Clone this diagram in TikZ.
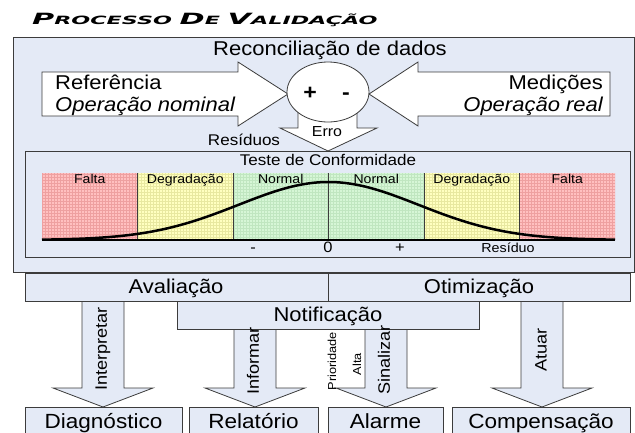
\documentclass[tikz,border=0pt]{standalone}
\usepackage{fontspec}
\setmainfont{Liberation Sans}[FakeStretch=1.1]
\newfontfamily\titlefont{DejaVu Sans}
\usepackage{tikz, amsmath, amssymb, graphicx}
\usetikzlibrary{positioning, shapes.geometric}

\definecolor{panel}{RGB}{228,234,246}
\definecolor{boxline}{RGB}{60,60,60}
\definecolor{falta}{RGB}{255,192,192}
\definecolor{faltaline}{RGB}{238,160,160}
\definecolor{deg}{RGB}{255,255,192}
\definecolor{degline}{RGB}{232,232,160}
\definecolor{norm}{RGB}{214,246,214}
\definecolor{normline}{RGB}{192,230,192}

\newcommand{\tbig}{\fontsize{15.5}{16}\selectfont}
\newcommand{\tsmall}{\fontsize{11.4}{12}\selectfont}
\newcommand{\blockdown}[2]{\draw[down_style] ({#1-21},#2) -- ({#1-21},388) -- ({#1-50},388) -- (#1,407) -- ({#1+50},388) -- ({#1+21},388) -- ({#1+21},#2) -- cycle;}

\begin{document}
\begin{tikzpicture}[x=1pt, y=-1pt]


\tikzstyle{box_style} = [draw=boxline, fill=panel, line width=0.8]
\tikzstyle{arrow_style} = [draw=boxline, fill=white, line width=0.8, line join=miter]
\tikzstyle{down_style} = [draw=boxline, fill=panel, line width=0.8, line join=miter]
\tikzstyle{text_big} = [inner sep=0, font=\fontsize{20}{24}\selectfont]
\tikzstyle{text_mid} = [inner sep=0, font=\fontsize{15.5}{19}\selectfont]
\tikzstyle{text_small} = [inner sep=0, font=\fontsize{12.8}{15}\selectfont]
\tikzstyle{text_turn} = [inner sep=0, rotate=90, font=\fontsize{16.5}{19}\selectfont]

\useasboundingbox (0,0) rectangle (635,432);

\node[anchor=base west, inner sep=0] (title) at (32,24) {\scalebox{1.95}[1]{\titlefont\bfseries\itshape \tbig P\tsmall ROCESSO \tbig D\tsmall E \tbig V\tsmall ALIDAÇÃO}};

% reconciliacao
\draw[box_style] (13,37) rectangle (634,272);
\node[text_big, anchor=base] (recon) at (330,55) {Reconciliação de dados};

\draw[arrow_style] (42,72) -- (238,72) -- (238,62) -- (288,94) -- (238,126) -- (238,116) -- (42,116) -- cycle;
\draw[arrow_style] (610,72) -- (418,72) -- (418,62) -- (369,94) -- (418,126) -- (418,116) -- (610,116) -- cycle;
\draw[arrow_style] (298,105) -- (298,128) -- (280,128) -- (328,151) -- (377,128) -- (357,128) -- (357,105) -- cycle;
\node[ellipse, draw=boxline, fill=white, line width=0.8, minimum width=82, minimum height=60] (sum) at (328,92) {};

\node[text_big, anchor=base west] (ref) at (55,89) {Referência};
\node[text_big, anchor=base west] (nominal) at (55,111) {\itshape Operação nominal};
\node[text_big, anchor=base east] (med) at (603,89) {Medições};
\node[text_big, anchor=base east] (real) at (603,111) {\itshape Operação real};
\node[text_big, anchor=base, font=\fontsize{21}{25}\selectfont\bfseries] (plus) at (310,99) {+};
\node[text_big, anchor=base, font=\fontsize{21}{25}\selectfont\bfseries] (minus) at (346,99) {-};
\node[text_mid, anchor=base, font=\fontsize{14.5}{18}\selectfont] (erro) at (327,136) {Erro};
\node[text_mid, anchor=base] (residuos) at (244,145) {Resíduos};

% teste de conformidade
\draw[box_style] (25,151) rectangle (630,257);
\node[text_mid, anchor=base] (teste) at (328,165) {Teste de Conformidade};

\foreach \c/\g [count=\i from 0] in {falta/faltaline, deg/degline, norm/normline, norm/normline, deg/degline, falta/faltaline} {
  \fill[\c] ({42+95.5*\i},173) rectangle ({137.5+95.5*\i},240);
  \begin{scope}
    \clip ({42+95.5*\i},173) rectangle ({137.5+95.5*\i},240);
    \draw[\g, line width=0.3, step=3pt] ({42+95.5*\i},173) grid ({137.5+95.5*\i},240);
  \end{scope}
}
\foreach \i in {1,...,5}
  \draw[boxline, line width=1] ({42+95.5*\i},173) -- ({42+95.5*\i},240);

\foreach \t [count=\i from 0] in {Falta, Degradação, Normal, Normal, Degradação, Falta}
  \node[text_small, anchor=base] (band\i) at ({89.75+95.5*\i},183) {\t};

\draw[line width=2] (42,240) -- (615,240);
\draw[line width=2.5, domain=42:615, samples=120, smooth] plot (\x, {240-58*exp(-((\x-328.5)/90)^2/2)});

\node[text_small, anchor=base, font=\fontsize{15}{18}\selectfont] (neg) at (253,252) {-};
\node[text_small, anchor=base, font=\fontsize{15}{18}\selectfont] (zero) at (328,252) {0};
\node[text_small, anchor=base, font=\fontsize{15}{18}\selectfont] (pos) at (400,252) {+};
\node[text_small, anchor=base, font=\fontsize{13}{16}\selectfont] (residuo) at (508,252) {Resíduo};

% acoes
\blockdown{103}{301}
\blockdown{255}{329}
\blockdown{386}{329}
\blockdown{542}{301}

\draw[box_style] (25,273) rectangle (328,301);
\draw[box_style] (328,273) rectangle (630,301);
\draw[box_style] (177,301) rectangle (479,329);
\node[text_big, anchor=base] (aval) at (176,293) {Avaliação};
\node[text_big, anchor=base] (otim) at (479,293) {Otimização};
\node[text_big, anchor=base] (notif) at (328,321) {Notificação};

\node[text_turn] (interp) at (103,349) {Interpretar};
\node[text_turn] (inform) at (253,361) {Informar};
\node[text_turn] (sinal) at (384,360) {Sinalizar};
\node[text_turn] (atuar) at (541,350) {Atuar};
\node[text_turn, font=\fontsize{11.6}{14}\selectfont] (prio) at (332,361) {Prioridade};
\node[text_turn, font=\fontsize{11.6}{14}\selectfont] (alta) at (357,364) {Alta};

\draw[box_style] (25,407) rectangle (182,434);
\draw[box_style] (189,407) rectangle (318,434);
\draw[box_style] (328,407) rectangle (443,434);
\draw[box_style] (452,407) rectangle (630,434);
\node[text_big, anchor=base, font=\fontsize{20.5}{24}\selectfont] (diag) at (103.5,428) {Diagnóstico};
\node[text_big, anchor=base, font=\fontsize{20.5}{24}\selectfont] (relat) at (253.5,428) {Relatório};
\node[text_big, anchor=base, font=\fontsize{20.5}{24}\selectfont] (alarme) at (385.5,428) {Alarme};
\node[text_big, anchor=base, font=\fontsize{20.5}{24}\selectfont] (comp) at (541,428) {Compensação};

\end{tikzpicture}
\end{document}
